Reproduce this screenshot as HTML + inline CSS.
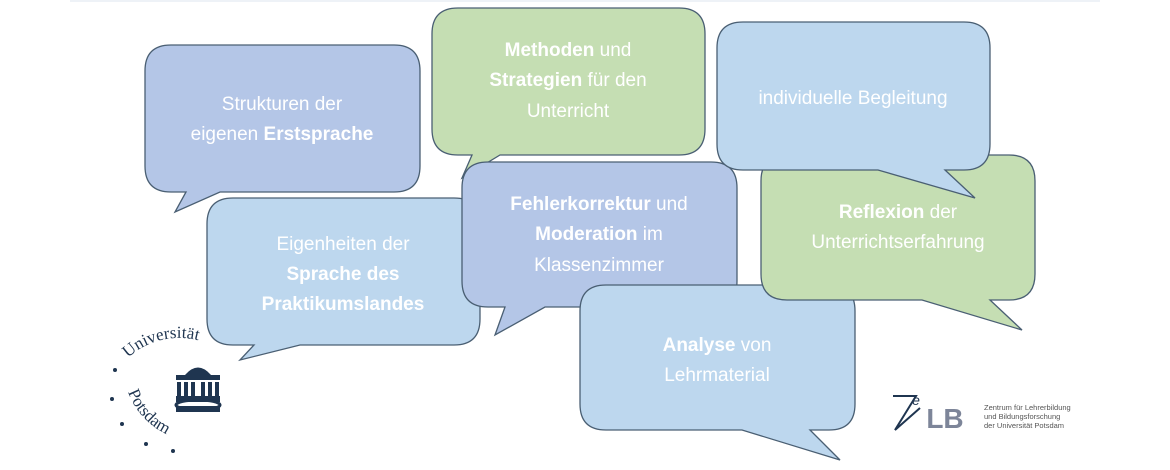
<!DOCTYPE html>
<html><head><meta charset="utf-8"><style>
html,body{margin:0;padding:0;background:#fff;}
svg{display:block}
text{font-family:"Liberation Sans",sans-serif;font-size:19px;fill:#fff;text-anchor:middle}
.b{font-weight:bold}
</style></head><body>
<svg width="1170" height="470" viewBox="0 0 1170 470" xmlns="http://www.w3.org/2000/svg">
<defs>
<path id="arcTop" d="M128,358 A75,75 0 0 1 220,350"/>
<path id="arcBot" d="M128,392 A75,75 0 0 0 185,440"/>
</defs>
<line x1="70" y1="1" x2="1100" y2="1" stroke="#eef2f7" stroke-width="2"/>
<path d="M458,8 H679 Q705,8 705,34 V129 Q705,155 679,155 H500 L462,178 L472,155 H458 Q432,155 432,129 V34 Q432,8 458,8Z" fill="#C5DEB3" stroke="#4a5f73" stroke-width="1.3"/>
<text x="568" y="56"><tspan class="b">Methoden</tspan> und</text>
<text x="568" y="86"><tspan class="b">Strategien</tspan> für den</text>
<text x="568" y="117">Unterricht</text>
<path d="M171,45 H394 Q420,45 420,71 V166 Q420,192 394,192 H220 L175,212 L186,192 H171 Q145,192 145,166 V71 Q145,45 171,45Z" fill="#B4C6E7" stroke="#4a5f73" stroke-width="1.3"/>
<text x="282" y="110">Strukturen der</text>
<text x="282" y="140">eigenen <tspan class="b">Erstsprache</tspan></text>
<path d="M233,198 H454 Q480,198 480,224 V319 Q480,345 454,345 H300 L240,360 L254,345 H233 Q207,345 207,319 V224 Q207,198 233,198Z" fill="#BDD7EE" stroke="#4a5f73" stroke-width="1.3"/>
<text x="343" y="250">Eigenheiten der</text>
<text x="343" y="280" class="b">Sprache des</text>
<text x="343" y="310" class="b">Praktikumslandes</text>
<path d="M488,162 H711 Q737,162 737,188 V281 Q737,307 711,307 H545 L495,335 L505,307 H488 Q462,307 462,281 V188 Q462,162 488,162Z" fill="#B4C6E7" stroke="#4a5f73" stroke-width="1.3"/>
<text x="599" y="210"><tspan class="b">Fehlerkorrektur</tspan> und</text>
<text x="599" y="240"><tspan class="b">Moderation</tspan> im</text>
<text x="599" y="271">Klassenzimmer</text>
<path d="M606,285 H829 Q855,285 855,311 V404 Q855,430 829,430 H810 L840,460 L742,430 H606 Q580,430 580,404 V311 Q580,285 606,285Z" fill="#BDD7EE" stroke="#4a5f73" stroke-width="1.3"/>
<text x="717" y="351"><tspan class="b">Analyse</tspan> von</text>
<text x="717" y="381">Lehrmaterial</text>
<path d="M787,155 H1009 Q1035,155 1035,181 V274 Q1035,300 1009,300 H990 L1022,330 L922,300 H787 Q761,300 761,274 V181 Q761,155 787,155Z" fill="#C5DEB3" stroke="#4a5f73" stroke-width="1.3"/>
<text x="898" y="218"><tspan class="b">Reflexion</tspan> der</text>
<text x="898" y="248">Unterrichtserfahrung</text>
<path d="M743,22 H964 Q990,22 990,48 V144 Q990,170 964,170 H945 L975,198 L878,170 H743 Q717,170 717,144 V48 Q717,22 743,22Z" fill="#BDD7EE" stroke="#4a5f73" stroke-width="1.3"/>
<text x="853" y="104">individuelle Begleitung</text>
<g fill="#1f3550">
<text style="font-family:'Liberation Serif',serif;font-size:17px;fill:#1f3550;text-anchor:start"><textPath href="#arcTop">Universität</textPath></text>
<text style="font-family:'Liberation Serif',serif;font-size:17px;fill:#1f3550;text-anchor:start"><textPath href="#arcBot" startOffset="0">Potsdam</textPath></text>
<circle cx="115" cy="370" r="2"/><circle cx="112" cy="399" r="2"/><circle cx="122" cy="424" r="2"/><circle cx="146" cy="444" r="2"/><circle cx="173" cy="451" r="2"/>
<path d="M185,375 Q198,360 211,375Z"/>
<rect x="176" y="375" width="44" height="5"/>
<rect x="177" y="382" width="4" height="14"/><rect x="184" y="382" width="4" height="14"/><rect x="191" y="382" width="4" height="14"/><rect x="201" y="382" width="4" height="14"/><rect x="208" y="382" width="4" height="14"/><rect x="215" y="382" width="4" height="14"/>
<rect x="176" y="396" width="44" height="6"/>
<ellipse cx="198" cy="405" rx="22" ry="5" fill="none" stroke="#1f3550" stroke-width="3"/>
<rect x="176" y="406" width="44" height="6"/>
</g>
<path d="M893,396 L916,396 L895,430 L920,408" fill="none" stroke="#1f3550" stroke-width="2"/>
<text x="916" y="405" style="font-size:14px;fill:#1f3550;font-style:italic">e</text>
<text x="945" y="428" style="font-size:28px;fill:#7d8599;font-weight:bold">LB</text>
<text x="984" y="410" style="font-size:7.5px;fill:#555;text-anchor:start">Zentrum für Lehrerbildung</text>
<text x="984" y="419" style="font-size:7.5px;fill:#555;text-anchor:start">und Bildungsforschung</text>
<text x="984" y="428" style="font-size:7.5px;fill:#555;text-anchor:start">der Universität Potsdam</text>
</svg>
</body></html>
